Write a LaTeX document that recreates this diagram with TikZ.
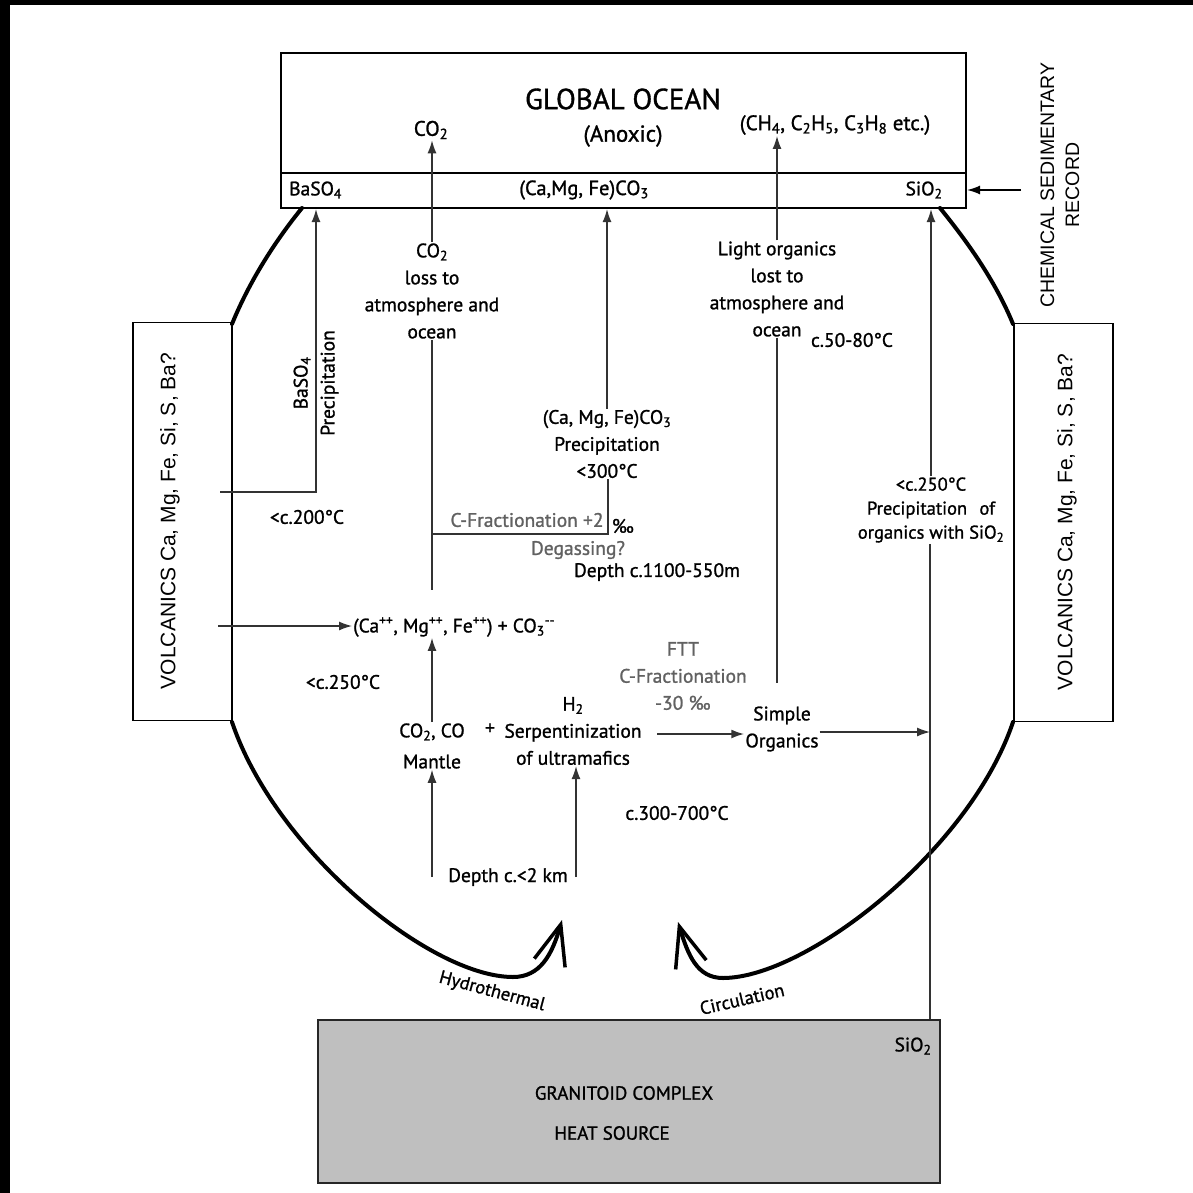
\documentclass[tikz,border=0pt]{standalone}
\usepackage{fontspec}
\setmainfont{PT Sans}[FakeBold=1.2]
\newfontfamily\arialf{Liberation Sans}
\usetikzlibrary{arrows.meta}
\newcommand\sbs[1]{\textsubscript{#1}}
\newcommand\sps[1]{\textsuperscript{#1}}
\begin{document}
\begin{tikzpicture}[x=1pt,y=-1pt,
  lbl/.style={font=\fontsize{19.5}{27}\selectfont, align=center, inner sep=1pt},
  glbl/.style={lbl, text=black!62},
  thinl/.style={draw=black!80, line width=1.3pt},
  arr/.style={thinl, -{Latex[length=13pt,width=9pt]}},
  thickl/.style={line width=4pt, line cap=round},
  hook/.style={thickl, -{Straight Barb[length=40pt,width=32pt,line width=3.5pt]}},
  boxl/.style={draw, line width=2.2pt, inner sep=0pt},
  sidebox/.style={draw, line width=1.6pt, inner sep=0pt, minimum width=99pt, minimum height=398pt},
  sidetxt/.style={font=\arialf\fontsize{21}{24}\selectfont, rotate=90},
  curvetxt/.style={font=\fontsize{18.5}{20}\selectfont, inner sep=0pt}
]
\useasboundingbox (0,0) rectangle (1193,1193);
\fill[black] (0,0) rectangle (10,1193);
\fill[black] (0,0) rectangle (1193,5);

% ---------- ocean box
\node[boxl, minimum width=685pt, minimum height=155pt] (ocean) at (623.5,130.5) {};
\coordinate (divL) at (281,173);
\coordinate (divR) at (966,173);
\draw[line width=2.2pt] (divL) -- (divR);
\node[font=\fontsize{29}{30}\selectfont] (go) at (623,99) {GLOBAL OCEAN};
\node[lbl, font=\fontsize{21}{27}\selectfont] (co2top) at (431,130) {CO\sbs{2}};
\node[lbl, font=\fontsize{23}{27}\selectfont] (anoxic) at (623,136) {(Anoxic)};
\node[lbl, font=\fontsize{21}{27}\selectfont] (ch4) at (835,125) {(CH\sbs4, C\sbs2H\sbs5, C\sbs3H\sbs8 etc.)};
\node[lbl, anchor=west] (baso4) at (288,190) {BaSO\sbs4};
\node[lbl, font=\fontsize{20.5}{27}\selectfont] (caco3) at (584,190) {(Ca,Mg, Fe)CO\sbs3};
\node[lbl] (sio2top) at (924,190) {SiO\sbs2};

% ---------- chemical sedimentary record
\node[sidetxt, align=center, font=\arialf\fontsize{19.5}{25}\selectfont] (csr) at (1060,185) {CHEMICAL SEDIMENTARY\\RECORD};
\coordinate (csrA) at (1021,190);
\draw[arr, draw=black] (csrA) -- (ocean.east |- csrA);

% ---------- side boxes
\node[sidebox] (volL) at (182.5,521.5) {};
\node[sidetxt] (volLt) at (170,521) {VOLCANICS Ca, Mg, Fe, Si, S, Ba?};
\node[sidebox] (volR) at (1063.5,522.5) {};
\node[sidetxt] (volRt) at (1067,522) {VOLCANICS Ca, Mg, Fe, Si, S, Ba?};

% ---------- thick circulation outline
\coordinate (ulA) at (302,208);
\coordinate (ulB) at (232,324);
\coordinate (urA) at (940,208);
\coordinate (urB) at (1013,324);
\draw[thickl] (ulA) .. controls (276,240) and (250,280) .. (ulB);
\draw[thickl] (urA) .. controls (966,240) and (995,280) .. (urB);
\coordinate (llA) at (232,722);
\coordinate (llM) at (513,977);
\coordinate (llT) at (562,920);
\coordinate (lrA) at (1013,722);
\coordinate (lrM) at (723,978);
\coordinate (lrT) at (678,922);
\draw[hook] (llA) .. controls (275,850) and (430,977) .. (llM) .. controls (540,977) and (552,955) .. (llT);
\draw[hook] (lrA) .. controls (970,850) and (806,978) .. (lrM) .. controls (697,978) and (688,955) .. (lrT);
\node[curvetxt, rotate=-15] (hydro) at (492,992) {Hydrothermal};
\node[curvetxt, rotate=13] (circ) at (742,999) {Circulation};

% ---------- granitoid
\node[draw=black!85, fill=black!25, line width=1.6pt, minimum width=622pt, minimum height=163pt, inner sep=0pt] (granite) at (629,1101.5) {};
\node[font=\fontsize{19}{20}\selectfont] (gc) at (624,1093) {GRANITOID COMPLEX};
\node[font=\fontsize{19}{20}\selectfont] (hs) at (612,1133) {HEAT SOURCE};
\node[lbl] (sio2g) at (913,1046) {SiO\sbs2};

% ---------- CO2 loss
\node[lbl] (co2loss) at (432,291) {CO\sbs2\\loss to\\atmosphere and\\ocean};
\draw[arr] (co2loss.north) -- (co2loss.north |- co2top.south);
\coordinate (co2end) at (432,590);
\draw[thinl] (co2loss.south) -- (co2end);

% ---------- light organics
\node[lbl] (light) at (777,289) {Light organics\\lost to\\atmosphere and\\ocean};
\draw[arr] (light.north) -- (light.north |- ch4.south);
\node[lbl] (t5080) at (852,340) {c.50-80°C};
\coordinate (lightend) at (777,683);
\draw[thinl] (light.south) -- (lightend);

% ---------- BaSO4
\node[lbl, rotate=90] (baprec) at (316,383) {BaSO\sbs4\\Precipitation};
\coordinate (baS) at (220,492);
\coordinate (baC) at (316,492);
\draw[arr] (baS) -- (baC) -- (baC |- ocean.south);
\node[lbl] (t200) at (307,517) {<c.200°C};

% ---------- carbonate precipitation
\node[lbl] (caprec) at (607,444) {(Ca, Mg, Fe)CO\sbs3\\Precipitation\\<300°C};
\draw[arr] (caprec.north) -- (caprec.north |- ocean.south);
\coordinate (cfL) at (432,534);
\coordinate (cfR) at (608,534);
\draw[thinl] (cfL) -- (cfR) -- (caprec.south -| cfR);
\node[glbl] (cfrac) at (527,520) {C-Fractionation +2};
\node[lbl] (permil) at (623,526) {‰};
\node[glbl] (degas) at (578,550) {Degassing?};
\node[lbl] (depth1) at (657,572) {Depth c.1100-550m};

% ---------- ions
\node[lbl, anchor=west] (ions) at (352,627) {(Ca\sps{++}, Mg\sps{++}, Fe\sps{++}) + CO\sbs3\sps{-{}-}};
\coordinate (volA) at (218,626);
\draw[arr] (volA) -- (volA -| ions.west);
\node[lbl] (t250) at (343,682) {<c.250°C};

% ---------- mantle / serpentinization
\node[lbl, font=\fontsize{19.5}{31}\selectfont] (co2co) at (432,746) {CO\sbs2, CO\\Mantle};
\draw[arr] (co2co.north) -- (co2co.north |- ions.south);
\node[lbl] (plus) at (490,729) {+};
\node[lbl] (serp) at (573,731) {H\sbs2\\Serpentinization\\of ultramafics};
\node[glbl] (ftt) at (683,676) {FTT\\C-Fractionation\\-30 ‰};
\node[lbl] (simple) at (782,729) {Simple\\Organics};
\coordinate (serpA) at (657,734);
\draw[arr, line width=2pt] (serpA) -- (serpA -| simple.west);
\node[lbl] (t300) at (677,813) {c.300-700°C};

% ---------- SiO2 precipitation
\node[lbl, font=\fontsize{18.5}{24}\selectfont] (siprec) at (931,510) {<c.250°C\\Precipitation\hspace{0.4em} of\\organics with SiO\sbs2};
\draw[arr] (siprec.north) -- (siprec.north |- ocean.south);
\coordinate (siJ) at (930,732);
\draw[thinl] (siprec.south -| siJ) -- (siJ |- granite.north);
\draw[arr] (siJ -| simple.east) -- (siJ);

% ---------- depth
\node[lbl] (depth2) at (508,877) {Depth c.<2 km};
\coordinate (d2L) at (432,877);
\coordinate (d2R) at (576,877);
\draw[arr] (d2L) -- (co2co.south -| d2L);
\draw[arr] (d2R) -- (serp.south -| d2R);
\end{tikzpicture}
\end{document}
